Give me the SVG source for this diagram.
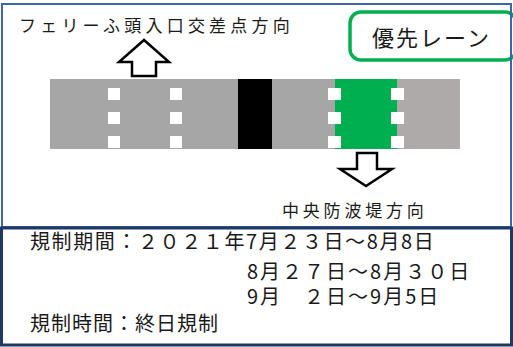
<svg xmlns="http://www.w3.org/2000/svg" width="513" height="347" viewBox="0 0 513 347">
<style>
.t{font-family:"Noto Sans CJK JP","Noto Sans CJK SC",sans-serif;fill:#1a1a1a}
.dash{fill:#ffffff}
.arrow{fill:#ffffff;stroke:#000000;stroke-width:2.5;stroke-linejoin:miter}
</style>
<rect x="0" y="0" width="513" height="347" fill="#ffffff"/>
<g id="top-frame">
<rect x="2" y="4" width="509" height="223" fill="#ffffff" stroke="#3E64AC" stroke-width="2"/>
</g>
<g id="priority-label">
<rect x="350" y="12" width="166" height="48" rx="11" fill="#ffffff" stroke="#00B050" stroke-width="3.5"/>
<text class="t" x="372" y="46" font-size="22" letter-spacing="2">優先レーン</text>
</g>
<g id="frame-edge">
<line x1="511" y1="3" x2="511" y2="228" stroke="#3E64AC" stroke-width="2"/>
</g>
<g id="road">
<rect x="50" y="79" width="188" height="70" fill="#A6A6A6"/>
<rect x="238" y="79" width="34" height="70" fill="#000000"/>
<rect x="272" y="79" width="63" height="70" fill="#A6A6A6"/>
<rect x="335" y="79" width="62" height="70" fill="#00B050"/>
<rect x="397" y="79" width="63" height="70" fill="#AEAAAA"/>
<rect class="dash" x="108" y="88" width="12" height="12"/>
<rect class="dash" x="108" y="112" width="12" height="12"/>
<rect class="dash" x="108" y="136" width="12" height="12"/>
<rect class="dash" x="170" y="88" width="12" height="12"/>
<rect class="dash" x="170" y="112" width="12" height="12"/>
<rect class="dash" x="170" y="136" width="12" height="12"/>
<rect class="dash" x="328" y="88" width="13" height="12"/>
<rect class="dash" x="328" y="112" width="13" height="12"/>
<rect class="dash" x="328" y="136" width="13" height="12"/>
<rect class="dash" x="391" y="88" width="13" height="12"/>
<rect class="dash" x="391" y="112" width="13" height="12"/>
<rect class="dash" x="391" y="136" width="13" height="12"/>
</g>
<g id="connectors">
<polygon class="arrow" points="144,40 169,62 156,62 156,76 132,76 132,62 119,62"/>
<polygon class="arrow" points="357,153 377,153 377,169 392,169 366,186 340,169 357,169"/>
</g>
<g id="label-ferry">
<text class="t" x="19" y="32" font-size="17" letter-spacing="4.2">フェリーふ頭入口交差点方向</text>
</g>
<g id="label-chuo">
<text class="t" x="282" y="217" font-size="17" letter-spacing="3.8">中央防波堤方向</text>
</g>
<g id="info-box">
<rect x="1.5" y="228" width="510" height="117" fill="#ffffff" stroke="#1F3864" stroke-width="3"/>
<text class="t" x="30" y="249" font-size="20" letter-spacing="1.6">規制期間：２０２１年7月２３日～8月8日</text>
<text class="t" x="247" y="279" font-size="20" letter-spacing="2">8月２７日～8月３０日</text>
<text class="t" x="247" y="304" font-size="20" letter-spacing="2">9月　２日～9月5日</text>
<text class="t" x="30" y="331" font-size="20" letter-spacing="1">規制時間：終日規制</text>
</g>
</svg>
